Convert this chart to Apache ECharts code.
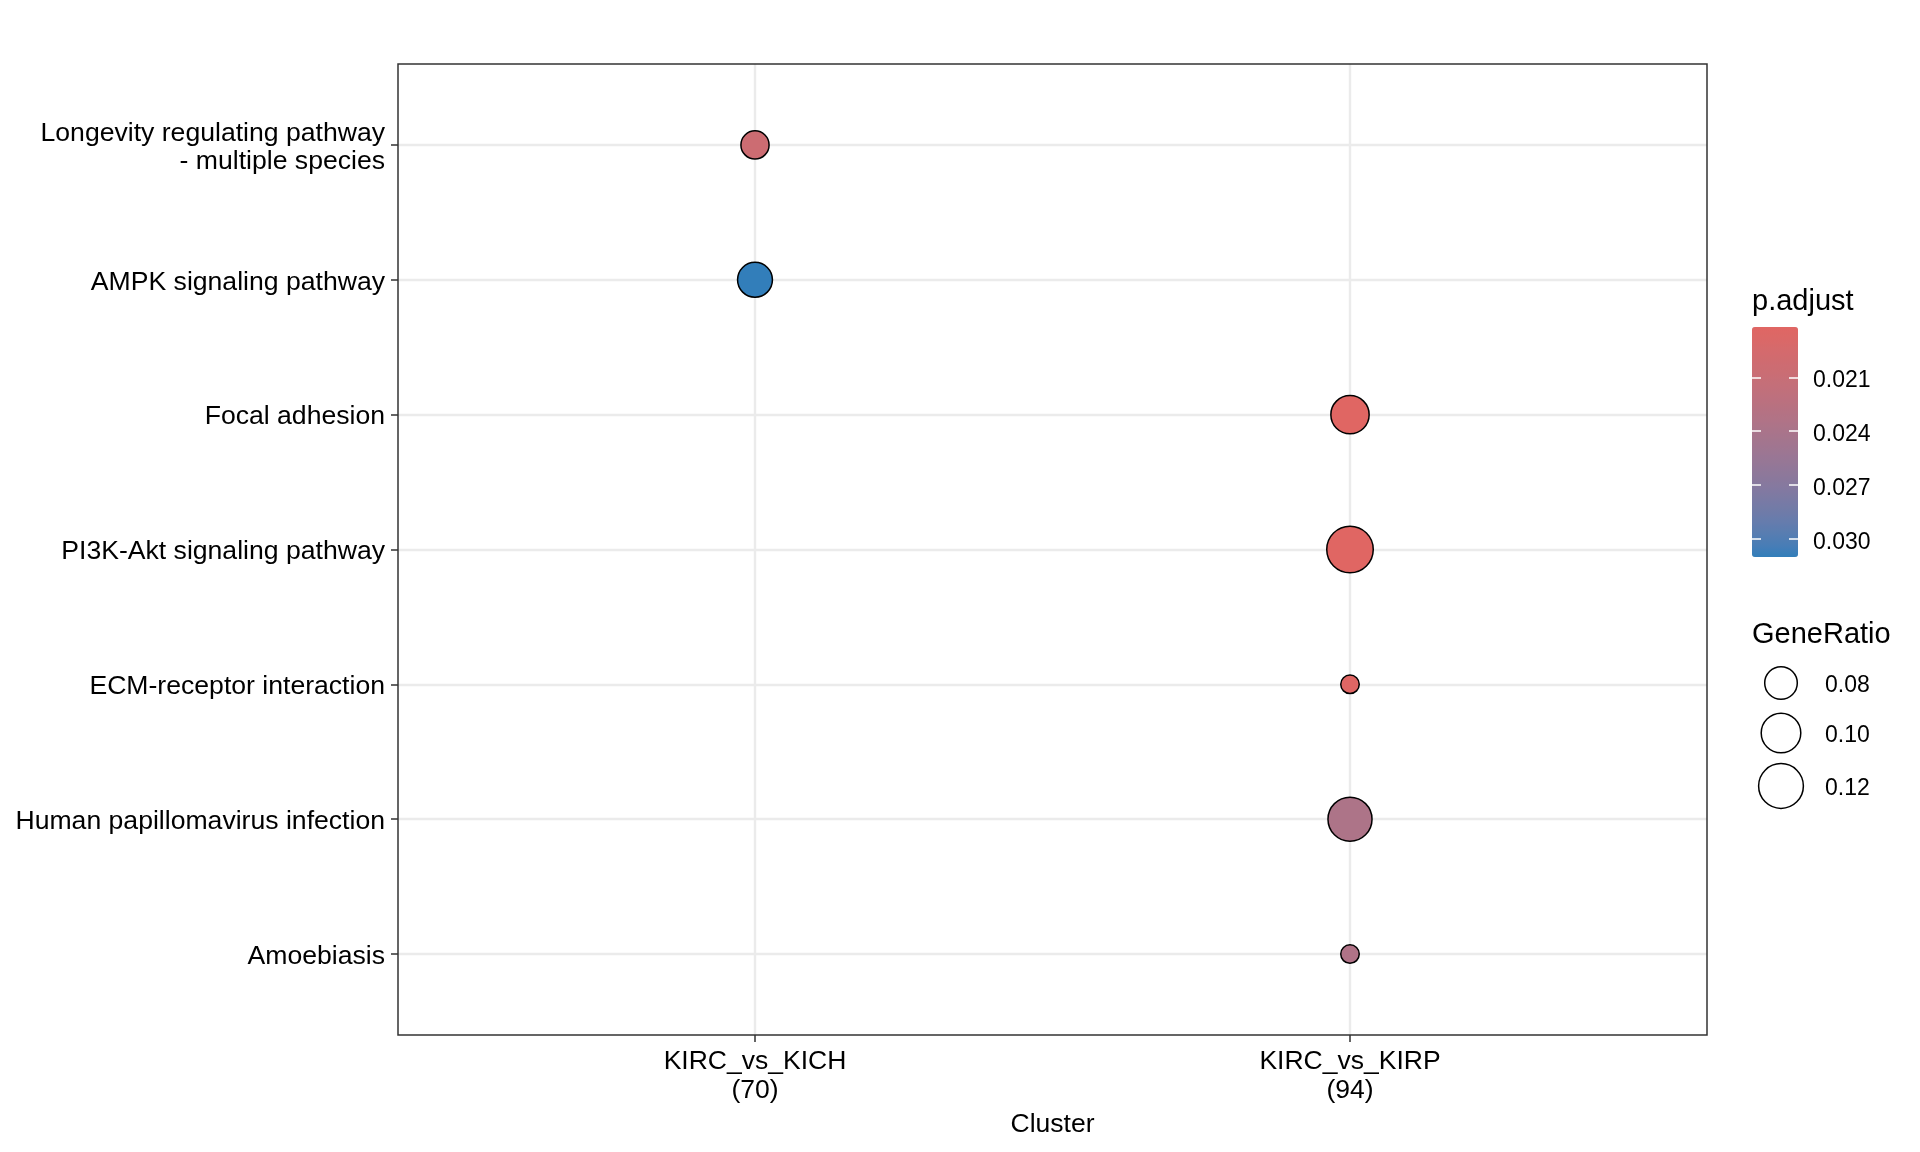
<!DOCTYPE html>
<html>
<head>
<meta charset="utf-8">
<script src="https://cdn.jsdelivr.net/npm/echarts@6/dist/echarts.min.js"></script>
<style>
html,body{margin:0;padding:0;background:#fff;}
#chart{width:1920px;height:1152px;}
</style>
</head>
<body>
<div id="chart"></div>
<script>
// ---- data ----
const terms = [
  'Longevity regulating pathway\n- multiple species',
  'AMPK signaling pathway',
  'Focal adhesion',
  'PI3K-Akt signaling pathway',
  'ECM-receptor interaction',
  'Human papillomavirus infection',
  'Amoebiasis'
];
const clusters = ['KIRC_vs_KICH', 'KIRC_vs_KIRP'];
const clusterCounts = [70, 94];
const termCluster = [0, 0, 1, 1, 1, 1, 1];
const geneRatio = [0.0714, 0.0857, 0.0957, 0.1277, 0.0638, 0.1170, 0.0638];
const pAdjust = [0.0205, 0.0310, 0.0182, 0.0182, 0.0183, 0.0237, 0.0234];
const pTicks = [0.021, 0.024, 0.027, 0.030];
const sizeBreaks = [0.08, 0.10, 0.12];

// ---- helpers ----
const FONT = 'Liberation Sans';
const lowColor = '#e06663', highColor = '#327eba';
function hex2rgb(h){return [1,3,5].map(i=>parseInt(h.slice(i,i+2),16));}
function toLin(c){c/=255;return c<=0.04045?c/12.92:Math.pow((c+0.055)/1.055,2.4);}
function fromLin(c){let v=c<=0.0031308?12.92*c:1.055*Math.pow(c,1/2.4)-0.055;return Math.max(0,Math.min(255,Math.round(v*255)));}
const WX=0.95047,WY=1,WZ=1.08883;
function f(t){return t>0.008856?Math.cbrt(t):7.787*t+16/116;}
function finv(t){const t3=t*t*t;return t3>0.008856?t3:(t-16/116)/7.787;}
function hex2lab(h){
  const [r,g,b]=hex2rgb(h).map(toLin);
  const X=(0.4124*r+0.3576*g+0.1805*b)/WX,Y=(0.2126*r+0.7152*g+0.0722*b)/WY,Z=(0.0193*r+0.1192*g+0.9505*b)/WZ;
  const fx=f(X),fy=f(Y),fz=f(Z);
  return [116*fy-16,500*(fx-fy),200*(fy-fz)];
}
function lab2hex(L,a,b){
  const fy=(L+16)/116,fx=fy+a/500,fz=fy-b/200;
  const X=finv(fx)*WX,Y=finv(fy)*WY,Z=finv(fz)*WZ;
  const r=3.2406*X-1.5372*Y-0.4986*Z,g=-0.9689*X+1.8758*Y+0.0415*Z,bb=0.0557*X-0.2040*Y+1.0570*Z;
  return '#'+[r,g,bb].map(c=>fromLin(c).toString(16).padStart(2,'0')).join('');
}
const labLo=hex2lab(lowColor),labHi=hex2lab(highColor);
const gradColors=[];
for(let i=0;i<=20;i++){const t=i/20;gradColors.push(lab2hex(labLo[0]+(labHi[0]-labLo[0])*t,labLo[1]+(labHi[1]-labLo[1])*t,labLo[2]+(labHi[2]-labLo[2])*t));}

const pMin=Math.min(...pAdjust), pMax=Math.max(...pAdjust);
const rMin=Math.min(...geneRatio), rMax=Math.max(...geneRatio);
// ggplot-like area scaling, range 3..8
const BORDER=1.5;
function outerDiam(v){const s=3+5*Math.sqrt(Math.max(0,(v-rMin)/(rMax-rMin)));return 5.6*s+3.2;}

const data = terms.map((t,i)=>[termCluster[i], i, geneRatio[i], pAdjust[i]]);

// size legend graphics
const legendCx=1781, legendY=[683,733,786];
const graphics=[];
sizeBreaks.forEach((v,i)=>{
  graphics.push({type:'circle',shape:{cx:legendCx,cy:legendY[i],r:(outerDiam(v)-BORDER)/2},style:{fill:'#fff',stroke:'#000',lineWidth:BORDER}});
  graphics.push({type:'text',x:1825,y:legendY[i]+3,style:{text:v.toFixed(2),fontSize:23,fontFamily:FONT,fill:'#000',verticalAlign:'middle'}});
});
graphics.push({type:'text',x:1752,y:302,style:{text:'p.adjust',fontSize:29,fontFamily:FONT,fill:'#000',verticalAlign:'middle'}});
graphics.push({type:'text',x:1752,y:635,style:{text:'GeneRatio',fontSize:29,fontFamily:FONT,fill:'#000',verticalAlign:'middle'}});

function termLabel(v){
  const lines=terms[Math.round(v)].split('\n');
  if(lines.length===1) return '{a|'+lines[0]+'}';
  return lines.map((s,k)=>(k===0?'{a2|':'{b|')+s+'}').join('\n');
}

const chart = echarts.init(document.getElementById('chart'), null, {renderer:'canvas'});
const option = {
  backgroundColor:'#fff',
  animation:false,
  textStyle:{fontFamily:FONT},
  grid:[
    {left:398, top:64, width:1309, height:971, show:true, borderColor:'#333333', borderWidth:1.5, backgroundColor:'transparent', z:3},
    {left:1752, top:327, width:46, height:230, show:false}
  ],
  xAxis:[
    {type:'value', gridIndex:0, min:-0.6, max:1.6,
     axisLine:{show:false, onZero:false},
     axisTick:{show:true, customValues:[0,1], length:7, lineStyle:{color:'#333333', width:1.5}},
     axisLabel:{show:true, customValues:[0,1], margin:12, fontSize:26.5, lineHeight:29, color:'#000', fontFamily:FONT,
       formatter:v=>{const i=Math.round(v);return clusters[i]+'\n('+clusterCounts[i]+')';}},
     splitLine:{show:true, lineStyle:{color:'#EBEBEB', width:2.4}},
     name:'Cluster', nameLocation:'middle', nameGap:76,
     nameTextStyle:{fontSize:26.5, color:'#000', fontFamily:FONT}
    },
    {type:'value', gridIndex:1, min:0, max:1, show:false}
  ],
  yAxis:[
    {type:'value', gridIndex:0, min:-0.6, max:6.6, inverse:true,
     axisLine:{show:false, onZero:false},
     axisTick:{show:true, customValues:[0,1,2,3,4,5,6], length:7, lineStyle:{color:'#333333', width:1.5}},
     axisLabel:{show:true, customValues:[0,1,2,3,4,5,6], margin:13, fontSize:26.6, color:'#000', fontFamily:FONT,
       formatter:termLabel,
       rich:{
         a:{fontSize:26.6, lineHeight:30, padding:[5,0,0,0], color:'#000', fontFamily:FONT},
         a2:{fontSize:26.6, lineHeight:30, padding:[7.5,0,0,0], color:'#000', fontFamily:FONT},
         b:{fontSize:26.6, lineHeight:30, padding:[2.5,0,0,0], color:'#000', fontFamily:FONT}
       }},
     splitLine:{show:true, lineStyle:{color:'#EBEBEB', width:2.4}}
    },
    {type:'value', gridIndex:1, min:pMin, max:pMax, inverse:true, position:'right', z:10,
     axisLine:{show:false, onZero:false},
     axisTick:{show:true, inside:true, customValues:pTicks, length:9, lineStyle:{color:'#ffffff', width:1.5}},
     axisLabel:{show:true, customValues:pTicks, margin:15, fontSize:23, color:'#000', fontFamily:FONT,
       formatter:v=>'{c|'+v.toFixed(3)+'}',
       rich:{c:{fontSize:23, padding:[7,0,0,0], color:'#000', fontFamily:FONT}}},
     splitLine:{show:false}
    },
    {type:'value', gridIndex:1, min:pMin, max:pMax, inverse:true, position:'left', z:10,
     axisLine:{show:false, onZero:false},
     axisTick:{show:true, inside:true, customValues:pTicks, length:9, lineStyle:{color:'#ffffff', width:1.5}},
     axisLabel:{show:false},
     splitLine:{show:false}
    }
  ],
  visualMap:[{
    type:'continuous', seriesIndex:0, dimension:3, min:pMin, max:pMax,
    inverse:true, orient:'vertical', left:1752, top:327, padding:0,
    itemWidth:46, itemHeight:230, calculable:false, realtime:false,
    inRange:{color:gradColors}, z:4
  }],
  series:[{
    type:'scatter', xAxisIndex:0, yAxisIndex:0, data:data,
    symbol:'circle',
    symbolSize:val=>outerDiam(val[2])-BORDER,
    itemStyle:{borderColor:'#000', borderWidth:BORDER, opacity:1},
    z:5
  }],
  graphic:graphics
};
chart.setOption(option);
</script>
</body>
</html>
